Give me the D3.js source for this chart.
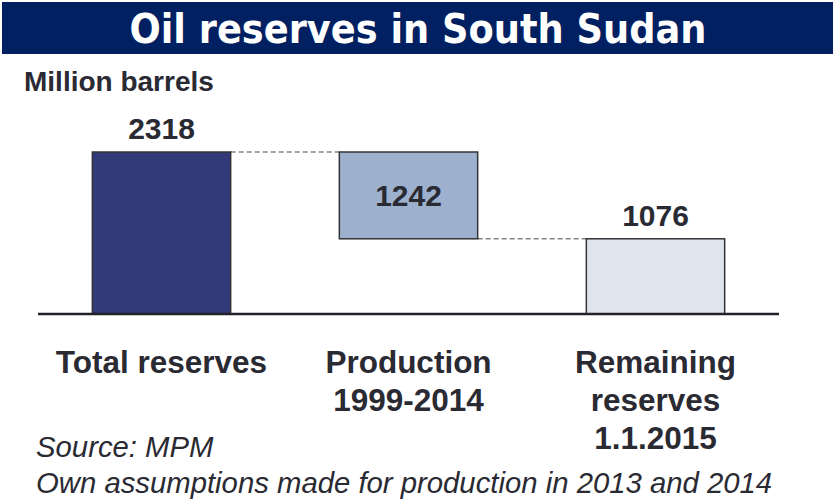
<!DOCTYPE html>
<html>
<head>
<meta charset="utf-8">
<script src="https://cdn.jsdelivr.net/npm/d3@7"></script>
<style>
  body { margin: 0; background: #fff; }
  text { font-family: "Liberation Sans", Arial, sans-serif; }
</style>
</head>
<body>
<div id="chart"></div>
<script>
const categories = ["Total reserves", "Production 1999-2014", "Remaining reserves 1.1.2015"];
const labelLines = [["Total reserves"], ["Production", "1999-2014"], ["Remaining", "reserves", "1.1.2015"]];
const values = [2318, -1242, 1076];
const barType = ["total", "delta", "total"];
const barColors = ["#333a7a", "#9db1cf", "#dee5ef"];

const width = 833, height = 500;
const baseY = 314;

// waterfall start/end for each bar
let running = 0;
const bars = categories.map((c, i) => {
  let lo, hi;
  if (barType[i] === "total") {
    lo = 0; hi = values[i]; running = values[i];
  } else {
    const next = running + values[i];
    lo = Math.min(running, next); hi = Math.max(running, next);
    running = next;
  }
  return { cat: c, lines: labelLines[i], value: Math.abs(values[i]), lo: lo, hi: hi, type: barType[i], color: barColors[i] };
});

const x = d3.scaleBand()
  .domain(categories)
  .range([38, 779])
  .paddingInner(0.44)
  .paddingOuter(0.22);

const y = d3.scaleLinear()
  .domain([0, d3.max(bars, d => d.hi)])
  .range([baseY, 152]);

const svg = d3.select("#chart").append("svg")
  .attr("width", width)
  .attr("height", height);

// title band
svg.append("rect")
  .attr("x", 2).attr("y", 2)
  .attr("width", width - 2).attr("height", 52)
  .attr("fill", "#012061");

svg.append("text")
  .attr("x", 418).attr("y", 43)
  .attr("text-anchor", "middle")
  .attr("fill", "#fff")
  .style("font-family", "'DejaVu Sans', Verdana, sans-serif")
  .style("font-weight", 700)
  .style("font-size", "40px")
  .attr("textLength", 577)
  .attr("lengthAdjust", "spacingAndGlyphs")
  .text("Oil reserves in South Sudan");

svg.append("text")
  .attr("x", 24).attr("y", 91)
  .attr("fill", "#2a2a33")
  .style("font-weight", 700)
  .style("font-size", "28px")
  .text("Million barrels");

// connector lines
for (let i = 0; i < bars.length - 1; i++) {
  const level = bars[i].type === "total" ? bars[i].hi : bars[i].lo;
  svg.append("line")
    .attr("x1", x(bars[i].cat) + x.bandwidth())
    .attr("x2", x(bars[i + 1].cat))
    .attr("y1", y(level)).attr("y2", y(level))
    .attr("stroke", "#444")
    .attr("stroke-width", 1)
    .attr("stroke-dasharray", "5,3");
}

svg.selectAll(".bar")
  .data(bars)
  .enter().append("rect")
  .attr("class", "bar")
  .attr("x", d => x(d.cat))
  .attr("width", x.bandwidth())
  .attr("y", d => y(d.hi))
  .attr("height", d => y(d.lo) - y(d.hi))
  .attr("fill", d => d.color)
  .attr("stroke", "#333338")
  .attr("stroke-width", 1.5);

// baseline
svg.append("line")
  .attr("x1", 38).attr("x2", 779)
  .attr("y1", baseY).attr("y2", baseY)
  .attr("stroke", "#222228")
  .attr("stroke-width", 2.5);

// value labels
svg.selectAll(".val")
  .data(bars)
  .enter().append("text")
  .attr("class", "val")
  .attr("x", d => x(d.cat) + x.bandwidth() / 2)
  .attr("y", d => d.type === "total" ? y(d.hi) - 13 : (y(d.hi) + y(d.lo)) / 2 + 11)
  .attr("text-anchor", "middle")
  .attr("fill", "#2a2a33")
  .style("font-weight", 700)
  .style("font-size", "30px")
  .text(d => d.value);

// category labels
const catG = svg.selectAll(".cat")
  .data(bars)
  .enter().append("text")
  .attr("class", "cat")
  .attr("text-anchor", "middle")
  .attr("fill", "#2a2a33")
  .style("font-weight", 700)
  .style("font-size", "31.5px");

catG.selectAll("tspan")
  .data(d => d.lines.map(l => ({ l: l, cx: x(d.cat) + x.bandwidth() / 2 })))
  .enter().append("tspan")
  .attr("x", t => t.cx)
  .attr("y", (t, i) => 373 + i * 38)
  .text(t => t.l);

// notes
const notes = ["Source: MPM", "Own assumptions made for production in 2013 and 2014"];
svg.selectAll(".note")
  .data(notes)
  .enter().append("text")
  .attr("class", "note")
  .attr("x", 36)
  .attr("y", (d, i) => 457 + i * 36)
  .attr("fill", "#2a2a33")
  .style("font-style", "italic")
  .style("font-size", "29.3px")
  .text(d => d);
</script>
</body>
</html>
